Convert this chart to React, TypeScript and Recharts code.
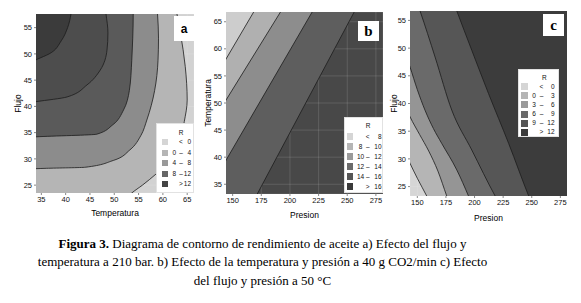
import React from "react"
import { ComposedChart, Area, XAxis, YAxis, CartesianGrid } from "recharts"

// a) flujo vs temperatura (210 bar): each contour read as temperatura at given flujo
const flujoA1 = [47.5, 49, 50, 52.5, 55, 57.6, 59]
const tempA1 = [31, 34.2, 36.6, 39.1, 40.4, 41.1, 41.3]
const flujoA2 = [40.2, 40.9, 41.8, 44.1, 46.9, 50.7, 54, 57.6, 59]
const tempA2 = [29, 33.9, 40.3, 44.4, 47.1, 48.5, 48.7, 48.3, 48.1]
const flujoA3 = [33.9, 34.2, 34.7, 36.5, 39.3, 43, 48.8, 53, 57.6, 59]
const tempA3 = [29, 33.9, 46.4, 49.7, 51.9, 53.1, 53.6, 53.8, 53.9, 53.9]
const flujoA4 = [27.9, 28.2, 28.4, 29.7, 31.7, 34.5, 37.4, 43, 48.8, 53, 57.6, 59]
const tempA4 = [28, 36, 44, 49.8, 53.2, 55.5, 56.7, 58.3, 59, 59.1, 58.9, 58.8]
const flujoA5 = [21, 23.5, 25, 27.2, 29.1, 33, 37.1, 41.2, 47.6, 54, 57.6, 59]
const tempA5 = [51.5, 53.6, 55.8, 58.7, 61, 63.4, 64.4, 65, 64.6, 63.6, 62.9, 62.6]
const tempTicksA = [35, 40, 45, 50, 55, 60, 65]
const flujoTicksA = [25, 30, 35, 40, 45, 50, 55]

// b) temperatura vs presion (40 g CO2/min): straight contours
const presionB = [140, 285]
const tempB1 = [56.6, 108.8]
const tempB2 = [49.1, 98.7]
const tempB3 = [37.9, 90.7]
const tempB4 = [20.7, 78.3]
const presionTicks = [150, 175, 200, 225, 250, 275]
const tempTicksB = [35, 40, 45, 50, 55, 60, 65]

// c) flujo vs presion (50 C)
const presionC1 = [140, 143.6, 150, 158.2, 166, 285]
const flujoC1 = [30.8, 29.2, 26.5, 23.3, 20, 5]
const presionC2 = [140, 143.6, 152, 160, 168, 175.7, 185, 285]
const flujoC2 = [39.2, 37.6, 34.4, 31.4, 27.8, 23.3, 18, 5]
const presionC3 = [140, 143.6, 150, 156.7, 164, 171.3, 184.5, 194.7, 205, 285]
const flujoC3 = [48.8, 46.6, 42.5, 38.8, 35.5, 32.8, 28, 23.3, 18, 5]
const presionC4 = [145, 152.4, 165.5, 180.1, 197.6, 218, 230, 285]
const flujoC4 = [61, 56.7, 48.4, 38.8, 31.6, 23.3, 19, 5]
const presionC5 = [175, 184.5, 197.6, 212.2, 229.8, 247.3, 260, 285]
const flujoC5 = [62, 56.7, 49.6, 41.8, 32.8, 23.3, 17, 8]
const flujoTicksC = [25, 30, 35, 40, 45, 50, 55]

// legends
const keyColorsA = ["#d5d5d5", "#b5b5b5", "#999999", "#666666", "#444444"]
const keyLowA = ["", "0", "4", "8", ""]
const keySepA = ["<", "–", "–", "–", ">"]
const keyHighA = ["0", "4", "8", "12", "12"]
const keyColorsBC = ["#d5d5d5", "#b5b5b5", "#9a9a9a", "#6a6a6a", "#555555", "#3a3a3a"]
const keySepBC = ["<", "–", "–", "–", "–", ">"]
const keyLowB = ["", "8", "10", "12", "14", ""]
const keyHighB = ["8", "10", "12", "14", "16", "16"]
const keyLowC = ["", "0", "3", "6", "9", ""]
const keyHighC = ["0", "3", "6", "9", "12", "12"]

const sans = "'Liberation Sans', Arial, sans-serif"
const serif = "'Liberation Serif', 'Times New Roman', serif"
const tickStyle = { fontSize: 7.5, fill: "#111", fontFamily: sans }
const titleProps = { fontSize: 8.5, fill: "#000", fontFamily: sans }
const lineColor = "#1c1c1c"
const gridStroke = "rgba(255,255,255,0.13)"

const rowsA = (f: number[], t: number[]) => f.map((y, i) => ({ y, x: t[i] }))
const rowsPT = (p: number[], v: number[]) => p.map((x, i) => ({ p: x, v: v[i] }))

function PanelA() {
  const curves = [
    { data: rowsA(flujoA5, tempA5), fill: "#b5b5b5" },
    { data: rowsA(flujoA4, tempA4), fill: "#8c8c8c" },
    { data: rowsA(flujoA3, tempA3), fill: "#5a5a5a" },
    { data: rowsA(flujoA2, tempA2), fill: "#4d4d4d" },
    { data: rowsA(flujoA1, tempA1), fill: "#3b3b3b" },
  ]
  return (
    <ComposedChart layout="vertical" width={194} height={205} margin={{ top: 0, right: 0, bottom: 0, left: 0 }}>
      <CartesianGrid fill="#d2d2d2" horizontal={false} vertical={false} />
      <XAxis type="number" domain={[33.9, 66.4]} ticks={tempTicksA} allowDataOverflow interval={0}
        height={26} tick={tickStyle} tickSize={2} tickMargin={2} axisLine={false} tickLine={{ stroke: "#888" }}
        label={{ value: "Temperatura", position: "insideBottom", offset: 3, ...titleProps }} />
      <YAxis type="number" dataKey="y" domain={[23.5, 57.6]} ticks={flujoTicksA} allowDataOverflow interval={0} reversed
        width={36} tick={tickStyle} tickSize={2} tickMargin={2} axisLine={false} tickLine={{ stroke: "#888" }}
        label={{ value: "Flujo", angle: -90, position: "insideLeft", offset: 18, textAnchor: "middle", ...titleProps }} />
      {curves.map((c, i) => (
        <Area key={i} data={c.data} dataKey="x" type="monotone" fill={c.fill} fillOpacity={1}
          stroke={lineColor} strokeWidth={0.8} isAnimationActive={false} />
      ))}
      <CartesianGrid stroke={gridStroke} />
    </ComposedChart>
  )
}

function PanelB() {
  const lines = [
    { v: tempB4, fill: "#5e5e5e" },
    { v: tempB3, fill: "#8d8d8d" },
    { v: tempB2, fill: "#b0b0b0" },
    { v: tempB1, fill: "#cdcdcd" },
  ]
  return (
    <ComposedChart width={195} height={208} margin={{ top: 0, right: 0, bottom: 0, left: 0 }}>
      <CartesianGrid fill="#484848" horizontal={false} vertical={false} />
      <XAxis type="number" dataKey="p" domain={[144.2, 281.2]} ticks={presionTicks} allowDataOverflow interval={0}
        height={26} tick={tickStyle} tickSize={2} tickMargin={2} axisLine={false} tickLine={{ stroke: "#888" }}
        label={{ value: "Presion", position: "insideBottom", offset: 2, ...titleProps }} />
      <YAxis type="number" domain={[33.2, 66.8]} ticks={tempTicksB} allowDataOverflow interval={0}
        width={38} tick={tickStyle} tickSize={2} tickMargin={2} axisLine={false} tickLine={{ stroke: "#888" }}
        label={{ value: "Temperatura", angle: -90, position: "insideLeft", offset: 20, textAnchor: "middle", ...titleProps }} />
      {lines.map((l, i) => (
        <Area key={i} data={rowsPT(presionB, l.v)} dataKey="v" type="linear" baseValue="dataMax" fill={l.fill}
          fillOpacity={1} stroke={lineColor} strokeWidth={0.8} isAnimationActive={false} />
      ))}
      <CartesianGrid stroke={gridStroke} />
    </ComposedChart>
  )
}

function PanelC() {
  const curves = [
    { d: rowsPT(presionC1, flujoC1), fill: "#b5b5b5" },
    { d: rowsPT(presionC2, flujoC2), fill: "#959595" },
    { d: rowsPT(presionC3, flujoC3), fill: "#6a6a6a" },
    { d: rowsPT(presionC4, flujoC4), fill: "#565656" },
    { d: rowsPT(presionC5, flujoC5), fill: "#3c3c3c" },
  ]
  return (
    <ComposedChart width={182} height={211} margin={{ top: 0, right: 0, bottom: 0, left: 0 }}>
      <CartesianGrid fill="#d6d6d6" horizontal={false} vertical={false} />
      <XAxis type="number" dataKey="p" domain={[143.6, 280.8]} ticks={presionTicks} allowDataOverflow interval={0}
        height={26} tick={tickStyle} tickSize={2} tickMargin={2} axisLine={false} tickLine={{ stroke: "#888" }}
        label={{ value: "Presion", position: "insideBottom", offset: 1, ...titleProps }} />
      <YAxis type="number" domain={[23.3, 56.7]} ticks={flujoTicksC} allowDataOverflow interval={0}
        width={25} tick={tickStyle} tickSize={2} tickMargin={2} axisLine={false} tickLine={{ stroke: "#888" }}
        label={{ value: "Flujo", angle: -90, position: "insideLeft", offset: 9, textAnchor: "middle", ...titleProps }} />
      {curves.map((c, i) => (
        <Area key={i} data={c.d} dataKey="v" type="monotone" baseValue="dataMax" fill={c.fill}
          fillOpacity={1} stroke={lineColor} strokeWidth={0.8} isAnimationActive={false} />
      ))}
      <CartesianGrid stroke={gridStroke} />
    </ComposedChart>
  )
}

type KeyLayout = {
  left: number; top: number; width: number; height: number
  titleX: number; titleY: number; rowY: number; step: number
  swatchX: number; swatch: number; loX: number; sepX: number; hiX: number
}

function ContourKey({ lay, colors, lows, seps, highs }: { lay: KeyLayout; colors: string[]; lows: string[]; seps: string[]; highs: string[] }) {
  const txt: React.CSSProperties = { position: "absolute", fontSize: 6.5, lineHeight: "8px", fontFamily: sans, color: "#111", whiteSpace: "nowrap" }
  return (
    <div style={{ position: "absolute", left: lay.left, top: lay.top, width: lay.width, height: lay.height, background: "#fff", border: "1px solid #e2e2e2", boxSizing: "border-box" }}>
      <span style={{ ...txt, left: lay.titleX - lay.left - 5, width: 10, textAlign: "center", top: lay.titleY - lay.top - 4 }}>R</span>
      {colors.map((c, i) => {
        const y = lay.rowY + i * lay.step - lay.top
        return (
          <React.Fragment key={i}>
            <div style={{ position: "absolute", left: lay.swatchX - lay.left, top: y - lay.swatch / 2, width: lay.swatch, height: lay.swatch, background: c }} />
            <span style={{ ...txt, left: lay.loX - lay.left - 6, width: 12, textAlign: "center", top: y - 4 }}>{lows[i]}</span>
            <span style={{ ...txt, left: lay.sepX - lay.left - 4, width: 8, textAlign: "center", top: y - 4 }}>{seps[i]}</span>
            <span style={{ ...txt, left: lay.hiX - lay.left - 14, width: 14, textAlign: "right", top: y - 4 }}>{highs[i]}</span>
          </React.Fragment>
        )
      })}
    </div>
  )
}

function Tag({ left, top, width, height, letter, font, size }: { left: number; top: number; width: number; height: number; letter: string; font: string; size: number }) {
  return (
    <div style={{ position: "absolute", left, top, width, height, background: "#fff", display: "flex", alignItems: "center", justifyContent: "center", fontFamily: font, fontWeight: "bold", fontSize: size, color: "#000" }}>
      {letter}
    </div>
  )
}

export default function App() {
  return (
    <div style={{ position: "absolute", left: 0, top: 0, width: 581, height: 303, background: "#fff", overflow: "hidden" }}>
      <div style={{ position: "absolute", left: 0, top: 14 }}><PanelA /></div>
      <div style={{ position: "absolute", left: 188, top: 12 }}><PanelB /></div>
      <div style={{ position: "absolute", left: 385, top: 11 }}><PanelC /></div>

      <Tag left={174} top={16} width={20} height={25} letter="a" font={sans} size={12} />
      <Tag left={358} top={21} width={21} height={20} letter="b" font={serif} size={15} />
      <Tag left={543} top={14} width={21} height={22} letter="c" font={serif} size={15} />

      <ContourKey lay={{ left: 156, top: 123, width: 38, height: 70, titleX: 180, titleY: 131.5, rowY: 141, step: 10.5, swatchX: 161, swatch: 6, loX: 173.3, sepX: 180, hiX: 190 }}
        colors={keyColorsA} lows={keyLowA} seps={keySepA} highs={keyHighA} />
      <ContourKey lay={{ left: 344, top: 117, width: 39, height: 76, titleX: 367, titleY: 125, rowY: 135.7, step: 10, swatchX: 345.5, swatch: 6.7, loX: 359.5, sepX: 366.7, hiX: 380.5 }}
        colors={keyColorsBC} lows={keyLowB} seps={keySepBC} highs={keyHighB} />
      <ContourKey lay={{ left: 518, top: 69, width: 41, height: 68, titleX: 543.3, titleY: 77, rowY: 85.7, step: 9.1, swatchX: 520, swatch: 7, loX: 533, sepX: 540.5, hiX: 553.5 }}
        colors={keyColorsBC} lows={keyLowC} seps={keySepBC} highs={keyHighC} />

      <div style={{ position: "absolute", left: 0, top: 234.5, width: 525, textAlign: "center", fontFamily: serif, fontSize: 13, lineHeight: "18.8px", color: "#000", whiteSpace: "nowrap" }}>
        <b>Figura 3.</b> Diagrama de contorno de rendimiento de aceite a) Efecto del flujo y<br />
        temperatura a 210 bar. b) Efecto de la temperatura y presión a 40 g CO2/min c) Efecto<br />
        del flujo y presión a 50 °C
      </div>
    </div>
  )
}
